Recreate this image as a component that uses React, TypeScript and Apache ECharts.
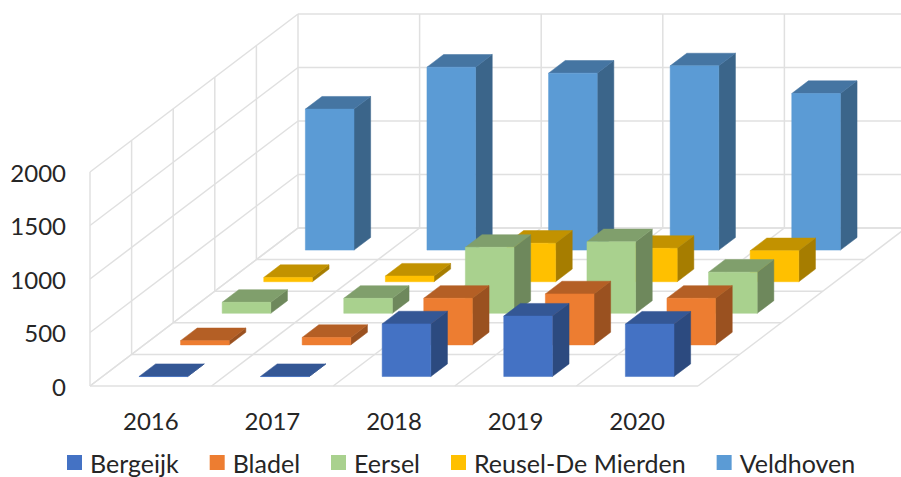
import React, { useEffect, useRef } from "react";
import * as echarts from "echarts";

const years = ["2016", "2017", "2018", "2019", "2020"];
const seriesNames = ["Bergeijk", "Bladel", "Eersel", "Reusel-De Mierden", "Veldhoven"];
const bergeijk = [0, 0, 492, 565, 490];
const bladel = [40, 70, 436, 477, 436];
const eersel = [103, 140, 617, 669, 385];
const reusel = [40, 53, 360, 312, 290];
const veldhoven = [1318, 1710, 1654, 1722, 1464];
const valueTicks = [0, 500, 1000, 1500, 2000];
const seriesValues = [bergeijk, bladel, eersel, reusel, veldhoven];

const colors = ["#4472C4", "#ED7D31", "#A9D18E", "#FFC000", "#5B9BD5"];
const topColors = ["#345795", "#B45F25", "#809F6C", "#C29200", "#4575A2"];
const sideColors = ["#2C4A7F", "#9A5120", "#6E885C", "#A67D00", "#3B658A"];

// one depth row of the oblique 3D projection, in pixels
const ROW_DX = 41.6;
const ROW_DY = -31.6;
const ROWS = 5;
const LINE = "#E0E0E0";

function renderWalls(_params: any, api: any) {
  const band = api.size([1, 0])[0];
  const [first] = api.coord([0, 0]);
  const x0 = first - band / 2;
  const y0 = api.coord([0, 0])[1];
  const x1 = x0 + band * years.length;
  const children: any[] = [];
  const line = (a: number, b: number, c: number, d: number) =>
    children.push({
      type: "line",
      shape: { x1: a, y1: b, x2: c, y2: d },
      style: { stroke: LINE, lineWidth: 1.5, fill: "none" },
    });
  const dx = ROW_DX * ROWS;
  const dy = ROW_DY * ROWS;
  valueTicks.forEach((t) => {
    const y = api.coord([0, t])[1];
    line(x0, y, x0 + dx, y + dy);
    line(x0 + dx, y + dy, x1 + dx, y + dy);
  });
  const yTop = api.coord([0, valueTicks[valueTicks.length - 1]])[1];
  for (let r = 0; r <= ROWS; r++) {
    const x = x0 + ROW_DX * r;
    const yb = y0 + ROW_DY * r;
    line(x, yb, x, yTop + ROW_DY * r);
    line(x, yb, x1 + ROW_DX * r, yb);
  }
  for (let c = 0; c <= years.length; c++) {
    const x = x0 + band * c;
    line(x, y0, x + dx, y0 + dy);
    if (c > 0) line(x + dx, y0 + dy, x + dx, yTop + dy);
  }
  return { type: "group", children };
}

function renderBar(s: number) {
  return (_params: any, api: any) => {
    const cat = api.value(0);
    const val = api.value(1);
    const band = api.size([1, 0])[0];
    const base = api.coord([cat, 0]);
    const top = api.coord([cat, val]);
    const w = band * 0.4;
    const ddx = ROW_DX * 0.4;
    const ddy = ROW_DY * 0.4;
    const xl = base[0] - w / 2 + ROW_DX * (s + 0.3);
    const xr = xl + w;
    const yb = base[1] + ROW_DY * (s + 0.3);
    const yt = top[1] + ROW_DY * (s + 0.3);
    const poly = (points: number[][], fill: string) => ({
      type: "polygon",
      shape: { points },
      style: { fill, stroke: fill, lineWidth: 0.5 },
    });
    return {
      type: "group",
      children: [
        poly([[xr, yb], [xr + ddx, yb + ddy], [xr + ddx, yt + ddy], [xr, yt]], sideColors[s]),
        poly([[xl, yt], [xr, yt], [xr + ddx, yt + ddy], [xl + ddx, yt + ddy]], topColors[s]),
        poly([[xl, yb], [xr, yb], [xr, yt], [xl, yt]], colors[s]),
      ],
    };
  };
}

export default function App() {
  const ref = useRef<HTMLDivElement>(null);
  useEffect(() => {
    document.body.style.margin = "0";
    const chart = echarts.init(ref.current!, null, { renderer: "svg" });
    chart.setOption({
      animation: false,
      backgroundColor: "#ffffff",
      textStyle: { fontFamily: "Lato" },
      grid: { left: 90, top: 172, width: 608, height: 214 },
      xAxis: {
        type: "category",
        data: years,
        axisLine: { show: false },
        axisTick: { show: false },
        splitLine: { show: false },
        axisLabel: { fontFamily: "Lato", fontSize: 24, color: "#262626", margin: 22 },
      },
      yAxis: {
        type: "value",
        min: 0,
        max: 2000,
        interval: 500,
        axisLine: { show: false },
        axisTick: { show: false },
        splitLine: { show: false },
        axisLabel: {
          fontFamily: "Lato",
          fontSize: 24,
          color: "#262626",
          margin: 24,
          formatter: (v: number) => String(v),
        },
      },
      legend: {
        left: 67,
        top: 450,
        padding: 0,
        icon: "rect",
        itemWidth: 15,
        itemHeight: 15,
        itemGap: 31,
        data: seriesNames,
        textStyle: { fontFamily: "Lato", fontSize: 25, color: "#262626", padding: [0, 0, 0, 3] },
      },
      series: [
        {
          type: "custom",
          name: "walls",
          silent: true,
          z: 1,
          clip: false,
          data: [[0, 0]],
          renderItem: renderWalls,
        },
        ...seriesNames.map((name, s) => ({
          type: "custom",
          name,
          z: 10 - s,
          clip: false,
          itemStyle: { color: colors[s] },
          data: seriesValues[s].map((v, i) => [i, v]),
          renderItem: renderBar(s),
        })),
      ],
    });
    return () => chart.dispose();
  }, []);
  return <div ref={ref} style={{ width: 901, height: 477 }} />;
}
